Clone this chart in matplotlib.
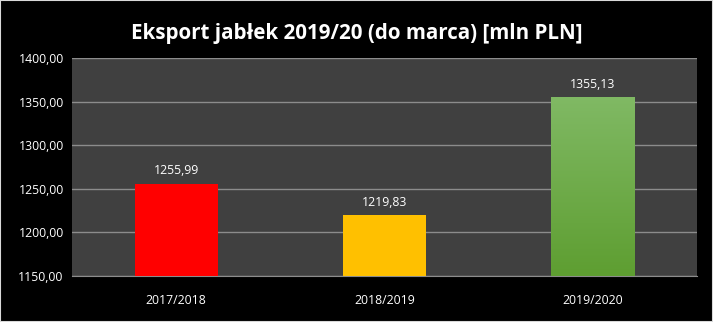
import numpy as np
import matplotlib
matplotlib.use('Agg')
from matplotlib import pyplot as plt

# data
seasons = ['2017/2018', '2018/2019', '2019/2020']
export_values = [1255.99, 1219.83, 1355.13]
bar_colors = ['#FF0000', '#FFC000', '#70AD47']
y_ticks = [1150, 1200, 1250, 1300, 1350, 1400]

plt.rcParams['font.family'] = ['Open Sans', 'DejaVu Sans']


def pl_fmt(v):
    return ('%.2f' % v).replace('.', ',')


fig = plt.figure(figsize=(7.13, 3.22), dpi=100, facecolor='black')
ax = fig.add_axes([0.101, 0.143, 0.8766, 0.677])
ax.set_facecolor('#404040')

x = np.arange(len(seasons))
bars = ax.bar(x, [v - y_ticks[0] for v in export_values], bottom=y_ticks[0],
              width=0.4, color=bar_colors, zorder=3)

# gradient on the last (green) bar
g = bars[2]
gx, gy = g.get_x(), g.get_y()
grad = np.linspace(0, 1, 256).reshape(-1, 1)
cmap = matplotlib.colors.LinearSegmentedColormap.from_list('g', ['#5E9E31', '#80B964'])
im = ax.imshow(grad, cmap=cmap, origin='lower', aspect='auto', zorder=4,
               extent=(gx, gx + g.get_width(), gy, gy + g.get_height()))
im.set_clip_path(g)

for xi, v in zip(x, export_values):
    ax.text(xi, v + 7, pl_fmt(v), ha='center', va='bottom', color='white',
            fontsize=8.8, zorder=5)

ax.set_xlim(-0.5, 2.5)
ax.set_ylim(y_ticks[0], y_ticks[-1])
ax.set_yticks(y_ticks)
ax.set_yticklabels([pl_fmt(t) for t in y_ticks])
ax.set_xticks(x)
ax.set_xticklabels(seasons)
ax.tick_params(axis='both', colors='white', labelsize=8.8, length=0)
ax.tick_params(axis='y', pad=6)
ax.tick_params(axis='x', pad=13)
ax.yaxis.grid(True, color='#8C8C8C', linewidth=1, zorder=1)
ax.set_axisbelow(True)
for side in ['left', 'right', 'top']:
    ax.spines[side].set_visible(False)
ax.spines['bottom'].set_color('#8C8C8C')

fig.text(0.5, 0.895, 'Eksport jabłek 2019/20 (do marca) [mln PLN]', ha='center',
         va='center', color='white', fontsize=14.8, fontweight='bold')

# thin light frame around the picture
fig.patches.append(plt.Rectangle((0, 0), 1, 1, transform=fig.transFigure,
                                 fill=False, edgecolor='#D9D9D9', linewidth=1.5))

fig.savefig('out.png', dpi=100, facecolor='black')
